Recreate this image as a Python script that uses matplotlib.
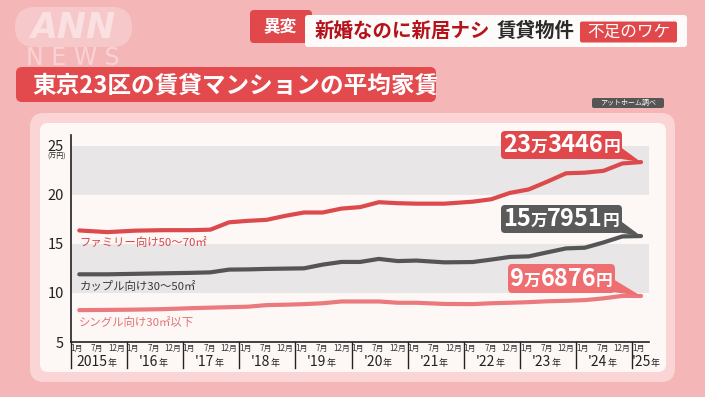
import matplotlib.pyplot as plt
from matplotlib.patches import FancyBboxPatch
from matplotlib.offsetbox import AnnotationBbox, HPacker, TextArea
import pandas as pd

plt.rcParams['font.family'] = ['Noto Sans CJK JP', 'DejaVu Sans']

# average rent, 10k yen
months = ['2015-01', '2015-07', '2016-01', '2016-07', '2017-01', '2017-05', '2017-09',
          '2018-01', '2018-05', '2018-09', '2019-01', '2019-05', '2019-09', '2020-01',
          '2020-05', '2020-09', '2021-01', '2021-07', '2022-01', '2022-05', '2022-09',
          '2023-01', '2023-05', '2023-09', '2024-01', '2024-05', '2024-09', '2025-01']
family = [16.37, 16.2, 16.35, 16.4, 16.4, 16.45, 17.2, 17.35, 17.45, 17.86, 18.2, 18.2,
          18.6, 18.75, 19.25, 19.15, 19.1, 19.1, 19.3, 19.55, 20.2, 20.55, 21.35, 22.2,
          22.26, 22.45, 23.2, 23.34]
couple = [11.9, 11.9, 11.95, 12.0, 12.05, 12.1, 12.38, 12.4, 12.45, 12.48, 12.51, 12.89,
          13.16, 13.16, 13.47, 13.25, 13.3, 13.12, 13.15, 13.4, 13.67, 13.73, 14.14, 14.54,
          14.61, 15.15, 15.76, 15.8]
single = [8.25, 8.27, 8.3, 8.35, 8.45, 8.5, 8.55, 8.6, 8.76, 8.8, 8.86, 8.95, 9.13, 9.13,
          9.13, 9.0, 9.0, 8.88, 8.86, 8.95, 9.0, 9.06, 9.15, 9.2, 9.27, 9.45, 9.7, 9.69]

series_names = ['ファミリー向け50〜70㎡', 'カップル向け30〜50㎡', 'シングル向け30㎡以下']
latest = [('23', '3446'), ('15', '7951'), ('9', '6876')]
years = list(range(2015, 2026))
year_labels = ['2015', "'16", "'17", "'18", "'19", "'20", "'21", "'22", "'23", "'24", "'25"]
month_labels = ['1月', '7月', '12月']
yticks = [5, 10, 15, 20, 25]

line_colors = ['#dc4a4d', '#555555', '#ea7a7e']
label_colors = ['#d8454a', '#3a3a3a', '#e27074']
box_colors = ['#e0484b', '#5a5a5a', '#ef6e71']

d = pd.to_datetime(months)
x = d.year + (d.month - 1) / 12

fig = plt.figure(figsize=(7.05, 3.97), dpi=100)
fig.patch.set_facecolor('#f5b6b8')

# background / decoration layer in pixel units
bg = fig.add_axes([0, 0, 1, 1], zorder=0)
bg.set_xlim(0, 705)
bg.set_ylim(397, 0)
bg.axis('off')


def rbox(x0, y0, w, h, r, fc, alpha=1.0):
    bg.add_patch(FancyBboxPatch((x0, y0), w, h, boxstyle=f'round,pad=0,rounding_size={r}',
                                fc=fc, ec='none', alpha=alpha))


# ANN NEWS logo
rbox(15, 7, 117, 40, 20, 'white', 0.25)
bg.text(73, 28, 'ANN', family=['DejaVu Sans'], fontsize=25, fontweight='bold', style='italic',
        color='white', alpha=0.45, ha='center', va='center')
bg.text(73, 58, 'N E W S', family=['DejaVu Sans'], fontsize=17, color='white', alpha=0.4,
        ha='center', va='center')

# headline
rbox(250, 10, 62, 33, 4, '#e0484c')
bg.text(280, 26, '異変', color='white', fontsize=12, fontweight='bold', ha='center', va='center')
rbox(305, 15, 382, 32, 3, '#fdfbf9')
bg.text(315, 31, '新婚なのに新居ナシ', color='#b5121b', fontsize=14, fontweight='bold',
        ha='left', va='center')
bg.text(497, 31, '賃貸物件', color='#2a2a2a', fontsize=14, fontweight='bold', ha='left', va='center')
rbox(580, 21.5, 97, 21, 2, '#e0484c')
bg.text(628.5, 32, '不足のワケ', color='white', fontsize=12, ha='center', va='center')

# subtitle bar
rbox(16, 67, 420, 35, 6, '#e24a4e')
bg.text(32, 86, '東京23区の賃貸マンションの平均家賃', color='white', fontsize=17,
        fontweight='bold', ha='left', va='center')

rbox(592, 98, 72, 10, 2, '#555555')
bg.text(628, 103, 'アットホーム調べ', color='white', fontsize=5, ha='center', va='center')

# chart card
rbox(30, 113, 645, 269, 14, '#fbd5d6')
rbox(40, 123, 626, 249, 8, '#fdf8f6')
bg.text(57, 157, '(万円)', fontsize=5, color='#222222', ha='center', va='center')

ax = fig.add_axes([70.7 / 705, 1 - 342 / 397, (649 - 70.7) / 705, (342 - 135) / 397], zorder=1)
ax.patch.set_visible(False)
ax.set_xlim(2014.847, 2025.142)
ax.set_ylim(5, 26.1)
ax.axhspan(10, 15, color='#e8e6e6', lw=0, zorder=0)
ax.axhspan(20, 25, color='#e8e6e6', lw=0, zorder=0)

for s in ['top', 'right']:
    ax.spines[s].set_visible(False)
for s in ['left', 'bottom']:
    ax.spines[s].set_color('#222222')
    ax.spines[s].set_linewidth(1.2)

ax.set_yticks(yticks)
ax.set_yticklabels([str(v) for v in yticks])
ax.tick_params(axis='y', length=0, labelsize=10.5, pad=5, colors='#222222')
ax.set_xticks([])

for vals, c in zip([family, couple, single], line_colors):
    ax.plot(x, vals, color=c, lw=3, solid_capstyle='round', solid_joinstyle='round', zorder=3)

label_y = [15.09, 10.69, 7.03]
for name, ly, c in zip(series_names, label_y, label_colors):
    ax.text(2015.0, ly, name, color=c, fontsize=8.2, ha='left', va='center', zorder=4)

# x axis: month / year labels and separators
xt = ax.get_xaxis_transform()


def packed(parts, color, weight='normal'):
    return HPacker(children=[TextArea(t, textprops=dict(color=color, fontsize=s, fontweight=weight))
                             for t, s in parts], align='baseline', pad=0, sep=0)


for i, yr in enumerate(years):
    ax.plot([yr - 0.153, yr - 0.153], [0, -0.125], transform=xt, color='#222222', lw=1,
            clip_on=False)
    offs = [-0.046, 0.32, 0.665] if yr < 2025 else [-0.046]
    for o, m in zip(offs, month_labels):
        ax.text(yr + o, -0.03, m, transform=xt, fontsize=5.8, color='#333333',
                ha='center', va='center')
    cx = yr + 0.31 if yr < 2025 else yr + 0.08
    ab = AnnotationBbox(packed([(year_labels[i], 10), ('年', 6.5)], '#222222'), (cx, -0.095),
                        xycoords=xt, frameon=False, box_alignment=(0.5, 0.5),
                        annotation_clip=False)
    ax.add_artist(ab)

# latest value callouts
box_y = [25.07, 17.56, 11.47]
for (man, rest), vals, by, c in zip(latest, [family, couple, single], box_y, box_colors):
    content = packed([(man, 17), ('万', 12), (rest, 17), ('円', 12)], 'white', 'bold')
    ab = AnnotationBbox(content, (x[-1], vals[-1]), xybox=(2023.58, by), xycoords='data',
                        boxcoords='data', box_alignment=(0.5, 0.5), frameon=True, pad=0.15,
                        bboxprops=dict(boxstyle='round,pad=0.15,rounding_size=0.3', fc=c, ec='none'),
                        arrowprops=dict(arrowstyle='wedge,tail_width=0.8,shrink_factor=0.5',
                                        fc=c, ec='none', relpos=(0.93, 0.3), patchA=None,
                                        shrinkA=0, shrinkB=0),
                        annotation_clip=False, zorder=5)
    ax.add_artist(ab)

fig.savefig('out.png', dpi=100, facecolor=fig.get_facecolor())
